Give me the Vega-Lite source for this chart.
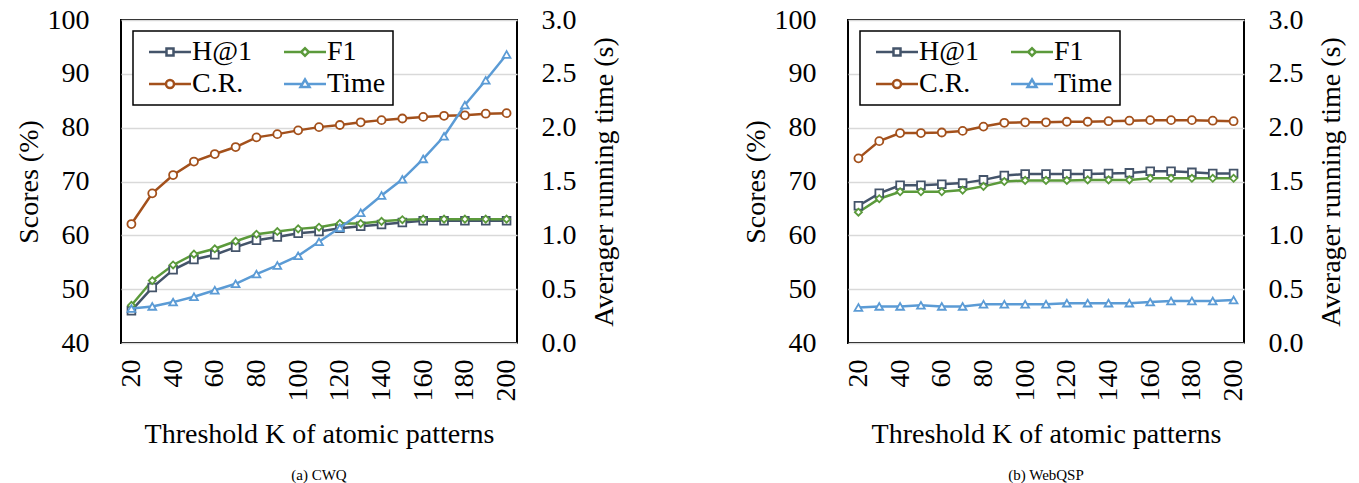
{
  "$schema": "https://vega.github.io/schema/vega-lite/v6.json",
  "padding": {"left": 14, "top": 5, "right": 5, "bottom": 2},
  "data": {"values": [
    {"d":"CWQ","K":20,"s":"H@1","v":46.0},{"d":"CWQ","K":30,"s":"H@1","v":50.3},{"d":"CWQ","K":40,"s":"H@1","v":53.6},{"d":"CWQ","K":50,"s":"H@1","v":55.5},{"d":"CWQ","K":60,"s":"H@1","v":56.4},{"d":"CWQ","K":70,"s":"H@1","v":57.8},{"d":"CWQ","K":80,"s":"H@1","v":59.1},{"d":"CWQ","K":90,"s":"H@1","v":59.7},{"d":"CWQ","K":100,"s":"H@1","v":60.4},{"d":"CWQ","K":110,"s":"H@1","v":60.7},{"d":"CWQ","K":120,"s":"H@1","v":61.3},{"d":"CWQ","K":130,"s":"H@1","v":61.7},{"d":"CWQ","K":140,"s":"H@1","v":62.0},{"d":"CWQ","K":150,"s":"H@1","v":62.4},{"d":"CWQ","K":160,"s":"H@1","v":62.7},{"d":"CWQ","K":170,"s":"H@1","v":62.7},{"d":"CWQ","K":180,"s":"H@1","v":62.7},{"d":"CWQ","K":190,"s":"H@1","v":62.7},{"d":"CWQ","K":200,"s":"H@1","v":62.7},
    {"d":"CWQ","K":20,"s":"F1","v":47.0},{"d":"CWQ","K":30,"s":"F1","v":51.6},{"d":"CWQ","K":40,"s":"F1","v":54.5},{"d":"CWQ","K":50,"s":"F1","v":56.5},{"d":"CWQ","K":60,"s":"F1","v":57.5},{"d":"CWQ","K":70,"s":"F1","v":58.9},{"d":"CWQ","K":80,"s":"F1","v":60.2},{"d":"CWQ","K":90,"s":"F1","v":60.7},{"d":"CWQ","K":100,"s":"F1","v":61.2},{"d":"CWQ","K":110,"s":"F1","v":61.5},{"d":"CWQ","K":120,"s":"F1","v":62.2},{"d":"CWQ","K":130,"s":"F1","v":62.2},{"d":"CWQ","K":140,"s":"F1","v":62.6},{"d":"CWQ","K":150,"s":"F1","v":62.9},{"d":"CWQ","K":160,"s":"F1","v":63.0},{"d":"CWQ","K":170,"s":"F1","v":63.0},{"d":"CWQ","K":180,"s":"F1","v":63.0},{"d":"CWQ","K":190,"s":"F1","v":63.0},{"d":"CWQ","K":200,"s":"F1","v":63.0},
    {"d":"CWQ","K":20,"s":"C.R.","v":62.1},{"d":"CWQ","K":30,"s":"C.R.","v":67.8},{"d":"CWQ","K":40,"s":"C.R.","v":71.2},{"d":"CWQ","K":50,"s":"C.R.","v":73.7},{"d":"CWQ","K":60,"s":"C.R.","v":75.1},{"d":"CWQ","K":70,"s":"C.R.","v":76.4},{"d":"CWQ","K":80,"s":"C.R.","v":78.2},{"d":"CWQ","K":90,"s":"C.R.","v":78.8},{"d":"CWQ","K":100,"s":"C.R.","v":79.5},{"d":"CWQ","K":110,"s":"C.R.","v":80.1},{"d":"CWQ","K":120,"s":"C.R.","v":80.5},{"d":"CWQ","K":130,"s":"C.R.","v":81.0},{"d":"CWQ","K":140,"s":"C.R.","v":81.4},{"d":"CWQ","K":150,"s":"C.R.","v":81.7},{"d":"CWQ","K":160,"s":"C.R.","v":82.0},{"d":"CWQ","K":170,"s":"C.R.","v":82.2},{"d":"CWQ","K":180,"s":"C.R.","v":82.3},{"d":"CWQ","K":190,"s":"C.R.","v":82.6},{"d":"CWQ","K":200,"s":"C.R.","v":82.7},
    {"d":"CWQ","K":20,"s":"Time","v":0.32},{"d":"CWQ","K":30,"s":"Time","v":0.34},{"d":"CWQ","K":40,"s":"Time","v":0.38},{"d":"CWQ","K":50,"s":"Time","v":0.43},{"d":"CWQ","K":60,"s":"Time","v":0.49},{"d":"CWQ","K":70,"s":"Time","v":0.55},{"d":"CWQ","K":80,"s":"Time","v":0.64},{"d":"CWQ","K":90,"s":"Time","v":0.72},{"d":"CWQ","K":100,"s":"Time","v":0.81},{"d":"CWQ","K":110,"s":"Time","v":0.94},{"d":"CWQ","K":120,"s":"Time","v":1.07},{"d":"CWQ","K":130,"s":"Time","v":1.21},{"d":"CWQ","K":140,"s":"Time","v":1.37},{"d":"CWQ","K":150,"s":"Time","v":1.52},{"d":"CWQ","K":160,"s":"Time","v":1.71},{"d":"CWQ","K":170,"s":"Time","v":1.92},{"d":"CWQ","K":180,"s":"Time","v":2.21},{"d":"CWQ","K":190,"s":"Time","v":2.44},{"d":"CWQ","K":200,"s":"Time","v":2.68},
    {"d":"WebQSP","K":20,"s":"H@1","v":65.5},{"d":"WebQSP","K":30,"s":"H@1","v":67.8},{"d":"WebQSP","K":40,"s":"H@1","v":69.3},{"d":"WebQSP","K":50,"s":"H@1","v":69.3},{"d":"WebQSP","K":60,"s":"H@1","v":69.5},{"d":"WebQSP","K":70,"s":"H@1","v":69.7},{"d":"WebQSP","K":80,"s":"H@1","v":70.3},{"d":"WebQSP","K":90,"s":"H@1","v":71.1},{"d":"WebQSP","K":100,"s":"H@1","v":71.4},{"d":"WebQSP","K":110,"s":"H@1","v":71.4},{"d":"WebQSP","K":120,"s":"H@1","v":71.4},{"d":"WebQSP","K":130,"s":"H@1","v":71.4},{"d":"WebQSP","K":140,"s":"H@1","v":71.5},{"d":"WebQSP","K":150,"s":"H@1","v":71.6},{"d":"WebQSP","K":160,"s":"H@1","v":71.9},{"d":"WebQSP","K":170,"s":"H@1","v":71.9},{"d":"WebQSP","K":180,"s":"H@1","v":71.7},{"d":"WebQSP","K":190,"s":"H@1","v":71.5},{"d":"WebQSP","K":200,"s":"H@1","v":71.5},
    {"d":"WebQSP","K":20,"s":"F1","v":64.3},{"d":"WebQSP","K":30,"s":"F1","v":66.8},{"d":"WebQSP","K":40,"s":"F1","v":68.1},{"d":"WebQSP","K":50,"s":"F1","v":68.1},{"d":"WebQSP","K":60,"s":"F1","v":68.1},{"d":"WebQSP","K":70,"s":"F1","v":68.4},{"d":"WebQSP","K":80,"s":"F1","v":69.1},{"d":"WebQSP","K":90,"s":"F1","v":70.0},{"d":"WebQSP","K":100,"s":"F1","v":70.2},{"d":"WebQSP","K":110,"s":"F1","v":70.2},{"d":"WebQSP","K":120,"s":"F1","v":70.2},{"d":"WebQSP","K":130,"s":"F1","v":70.3},{"d":"WebQSP","K":140,"s":"F1","v":70.3},{"d":"WebQSP","K":150,"s":"F1","v":70.3},{"d":"WebQSP","K":160,"s":"F1","v":70.6},{"d":"WebQSP","K":170,"s":"F1","v":70.6},{"d":"WebQSP","K":180,"s":"F1","v":70.6},{"d":"WebQSP","K":190,"s":"F1","v":70.6},{"d":"WebQSP","K":200,"s":"F1","v":70.6},
    {"d":"WebQSP","K":20,"s":"C.R.","v":74.3},{"d":"WebQSP","K":30,"s":"C.R.","v":77.5},{"d":"WebQSP","K":40,"s":"C.R.","v":79.0},{"d":"WebQSP","K":50,"s":"C.R.","v":79.0},{"d":"WebQSP","K":60,"s":"C.R.","v":79.1},{"d":"WebQSP","K":70,"s":"C.R.","v":79.4},{"d":"WebQSP","K":80,"s":"C.R.","v":80.2},{"d":"WebQSP","K":90,"s":"C.R.","v":80.9},{"d":"WebQSP","K":100,"s":"C.R.","v":81.0},{"d":"WebQSP","K":110,"s":"C.R.","v":81.0},{"d":"WebQSP","K":120,"s":"C.R.","v":81.1},{"d":"WebQSP","K":130,"s":"C.R.","v":81.1},{"d":"WebQSP","K":140,"s":"C.R.","v":81.2},{"d":"WebQSP","K":150,"s":"C.R.","v":81.3},{"d":"WebQSP","K":160,"s":"C.R.","v":81.4},{"d":"WebQSP","K":170,"s":"C.R.","v":81.4},{"d":"WebQSP","K":180,"s":"C.R.","v":81.4},{"d":"WebQSP","K":190,"s":"C.R.","v":81.3},{"d":"WebQSP","K":200,"s":"C.R.","v":81.2},
    {"d":"WebQSP","K":20,"s":"Time","v":0.33},{"d":"WebQSP","K":30,"s":"Time","v":0.34},{"d":"WebQSP","K":40,"s":"Time","v":0.34},{"d":"WebQSP","K":50,"s":"Time","v":0.35},{"d":"WebQSP","K":60,"s":"Time","v":0.34},{"d":"WebQSP","K":70,"s":"Time","v":0.34},{"d":"WebQSP","K":80,"s":"Time","v":0.36},{"d":"WebQSP","K":90,"s":"Time","v":0.36},{"d":"WebQSP","K":100,"s":"Time","v":0.36},{"d":"WebQSP","K":110,"s":"Time","v":0.36},{"d":"WebQSP","K":120,"s":"Time","v":0.37},{"d":"WebQSP","K":130,"s":"Time","v":0.37},{"d":"WebQSP","K":140,"s":"Time","v":0.37},{"d":"WebQSP","K":150,"s":"Time","v":0.37},{"d":"WebQSP","K":160,"s":"Time","v":0.38},{"d":"WebQSP","K":170,"s":"Time","v":0.39},{"d":"WebQSP","K":180,"s":"Time","v":0.39},{"d":"WebQSP","K":190,"s":"Time","v":0.39},{"d":"WebQSP","K":200,"s":"Time","v":0.40}
  ]},
  "hconcat": [
    {
      "width": 396, "height": 323,
      "title": {"text": "(a) CWQ", "orient": "bottom", "offset": 20},
      "transform": [{"filter": "datum.d === 'CWQ'"}],
      "layer": [
        {
          "transform": [{"filter": "datum.s !== 'Time'"}],
          "encoding": {
            "x": {"field": "K", "type": "ordinal", "sort": null, "scale": {"type": "point", "padding": 0.5},
                  "axis": {"title": "Threshold K of atomic patterns", "values": [20,40,60,80,100,120,140,160,180,200], "labelAngle": 270, "labelPadding": 16, "titlePadding": 19, "domain": false, "ticks": false, "grid": false}},
            "y": {"field": "v", "type": "quantitative", "scale": {"domain": [40, 100], "nice": false, "zero": false},
                  "axis": {"title": "Scores (%)", "values": [40,50,60,70,80,90,100], "grid": true, "gridColor": "#D9D9D9", "gridWidth": 1.5, "domain": false, "ticks": false, "labelPadding": 32, "titlePadding": 4}},
            "stroke": {"field": "s", "type": "nominal",
                       "scale": {"domain": ["H@1", "F1", "C.R.", "Time"], "range": ["#44546A", "#5B9A3B", "#A3501B", "#5B9BD5"]},
                       "legend": {"title": null, "orient": "none", "direction": "horizontal", "legendX": 12, "legendY": 11, "columns": 2,
                                  "encode": {"symbols": {"update": {"x": {"value": 30}, "shape": {"signal": "datum.value === 'H@1' ? 'M-2.1,0H-0.35M0.35,0H2.1M-0.35,-0.35H0.35V0.35H-0.35Z' : datum.value === 'F1' ? 'M-2.1,0H-0.38M0.38,0H2.1M-0.38,0L0,-0.38L0.38,0L0,0.38Z' : datum.value === 'C.R.' ? 'M-2.1,0H-0.4M0.4,0H2.1M-0.4,0A0.4,0.4,0,1,0,0.4,0A0.4,0.4,0,1,0,-0.4,0Z' : 'M-2.1,0H-0.26M0.26,0H2.1M-0.45,0.31L0,-0.45L0.45,0.31Z'"}, "fill": {"value": "white"}}},
                                             "labels": {"update": {"x": {"value": 52}}}}}}
          },
          "layer": [
            {"mark": {"type": "line", "strokeWidth": 2.5}},
            {"transform": [{"filter": "datum.s === 'H@1'"}], "mark": {"type": "point", "shape": "square", "filled": true, "fill": "white", "strokeWidth": 1.8, "size": 60, "opacity": 1}},
            {"transform": [{"filter": "datum.s === 'F1'"}], "mark": {"type": "point", "shape": "diamond", "filled": true, "fill": "white", "strokeWidth": 1.8, "size": 50, "opacity": 1}},
            {"transform": [{"filter": "datum.s === 'C.R.'"}], "mark": {"type": "point", "shape": "circle", "filled": true, "fill": "white", "strokeWidth": 1.8, "size": 64, "opacity": 1}}
          ]
        },
        {
          "transform": [{"filter": "datum.s === 'Time'"}],
          "encoding": {
            "x": {"field": "K", "type": "ordinal", "sort": null, "scale": {"type": "point", "padding": 0.5}},
            "y": {"field": "v", "type": "quantitative", "scale": {"domain": [0, 3], "nice": false, "zero": false},
                  "axis": {"orient": "right", "title": "Averager running time (s)", "values": [0,0.5,1,1.5,2,2.5,3], "format": ".1f", "grid": false, "domain": false, "ticks": false, "labelPadding": 24, "titlePadding": 14, "titleAngle": 270, "titleBaseline": "top"}},
            "stroke": {"field": "s", "type": "nominal", "scale": {"domain": ["H@1", "F1", "C.R.", "Time"], "range": ["#44546A", "#5B9A3B", "#A3501B", "#5B9BD5"]}}
          },
          "layer": [
            {"mark": {"type": "line", "strokeWidth": 2.5}},
            {"mark": {"type": "point", "shape": "triangle-up", "filled": true, "fill": "white", "strokeWidth": 1.8, "size": 60, "opacity": 1}}
          ]
        }
      ],
      "resolve": {"scale": {"y": "independent"}, "axis": {"y": "independent"}}
    },
    {
      "width": 396, "height": 323,
      "title": {"text": "(b) WebQSP", "orient": "bottom", "offset": 20},
      "transform": [{"filter": "datum.d === 'WebQSP'"}],
      "layer": [
        {
          "transform": [{"filter": "datum.s !== 'Time'"}],
          "encoding": {
            "x": {"field": "K", "type": "ordinal", "sort": null, "scale": {"type": "point", "padding": 0.5},
                  "axis": {"title": "Threshold K of atomic patterns", "values": [20,40,60,80,100,120,140,160,180,200], "labelAngle": 270, "labelPadding": 16, "titlePadding": 19, "domain": false, "ticks": false, "grid": false}},
            "y": {"field": "v", "type": "quantitative", "scale": {"domain": [40, 100], "nice": false, "zero": false},
                  "axis": {"title": "Scores (%)", "values": [40,50,60,70,80,90,100], "grid": true, "gridColor": "#D9D9D9", "gridWidth": 1.5, "domain": false, "ticks": false, "labelPadding": 32, "titlePadding": 4}},
            "stroke": {"field": "s", "type": "nominal",
                       "scale": {"domain": ["H@1", "F1", "C.R.", "Time"], "range": ["#44546A", "#5B9A3B", "#A3501B", "#5B9BD5"]},
                       "legend": {"title": null, "orient": "none", "direction": "horizontal", "legendX": 12, "legendY": 11, "columns": 2,
                                  "encode": {"symbols": {"update": {"x": {"value": 30}, "shape": {"signal": "datum.value === 'H@1' ? 'M-2.1,0H-0.35M0.35,0H2.1M-0.35,-0.35H0.35V0.35H-0.35Z' : datum.value === 'F1' ? 'M-2.1,0H-0.38M0.38,0H2.1M-0.38,0L0,-0.38L0.38,0L0,0.38Z' : datum.value === 'C.R.' ? 'M-2.1,0H-0.4M0.4,0H2.1M-0.4,0A0.4,0.4,0,1,0,0.4,0A0.4,0.4,0,1,0,-0.4,0Z' : 'M-2.1,0H-0.26M0.26,0H2.1M-0.45,0.31L0,-0.45L0.45,0.31Z'"}, "fill": {"value": "white"}}},
                                             "labels": {"update": {"x": {"value": 52}}}}}}
          },
          "layer": [
            {"mark": {"type": "line", "strokeWidth": 2.5}},
            {"transform": [{"filter": "datum.s === 'H@1'"}], "mark": {"type": "point", "shape": "square", "filled": true, "fill": "white", "strokeWidth": 1.8, "size": 60, "opacity": 1}},
            {"transform": [{"filter": "datum.s === 'F1'"}], "mark": {"type": "point", "shape": "diamond", "filled": true, "fill": "white", "strokeWidth": 1.8, "size": 50, "opacity": 1}},
            {"transform": [{"filter": "datum.s === 'C.R.'"}], "mark": {"type": "point", "shape": "circle", "filled": true, "fill": "white", "strokeWidth": 1.8, "size": 64, "opacity": 1}}
          ]
        },
        {
          "transform": [{"filter": "datum.s === 'Time'"}],
          "encoding": {
            "x": {"field": "K", "type": "ordinal", "sort": null, "scale": {"type": "point", "padding": 0.5}},
            "y": {"field": "v", "type": "quantitative", "scale": {"domain": [0, 3], "nice": false, "zero": false},
                  "axis": {"orient": "right", "title": "Averager running time (s)", "values": [0,0.5,1,1.5,2,2.5,3], "format": ".1f", "grid": false, "domain": false, "ticks": false, "labelPadding": 24, "titlePadding": 14, "titleAngle": 270, "titleBaseline": "top"}},
            "stroke": {"field": "s", "type": "nominal", "scale": {"domain": ["H@1", "F1", "C.R.", "Time"], "range": ["#44546A", "#5B9A3B", "#A3501B", "#5B9BD5"]}}
          },
          "layer": [
            {"mark": {"type": "line", "strokeWidth": 2.5}},
            {"mark": {"type": "point", "shape": "triangle-up", "filled": true, "fill": "white", "strokeWidth": 1.8, "size": 60, "opacity": 1}}
          ]
        }
      ],
      "resolve": {"scale": {"y": "independent"}, "axis": {"y": "independent"}}
    }
  ],
  "spacing": 122,
  "resolve": {"scale": {"stroke": "independent"}, "legend": {"stroke": "independent"}},
  "config": {
    "font": "Liberation Serif, Times New Roman, serif",
    "view": {"stroke": "black", "strokeWidth": 2},
    "axis": {"labelFont": "Liberation Serif, Times New Roman, serif", "labelFontSize": 28, "labelColor": "black", "titleFont": "Liberation Serif, Times New Roman, serif", "titleFontSize": 28, "titleFontWeight": "normal", "titleColor": "black"},
    "legend": {"symbolSize": 400, "symbolStrokeWidth": 2.5, "symbolOffset": 0, "labelOffset": 0, "labelFont": "Liberation Serif, Times New Roman, serif", "labelFontSize": 28, "labelColor": "black", "columnPadding": 22, "rowPadding": 4, "padding": 7, "strokeColor": "black", "fillColor": "white", "strokeWidth": 1.5},
    "title": {"font": "Liberation Serif, Times New Roman, serif", "fontSize": 15, "fontWeight": "normal", "color": "black"}
  }
}
